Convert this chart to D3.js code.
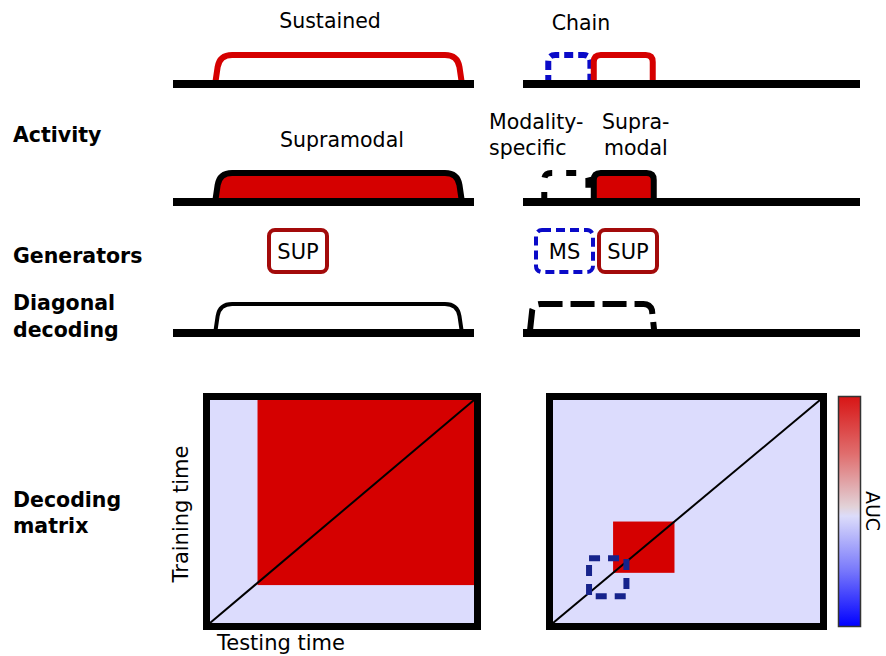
<!DOCTYPE html>
<html>
<head>
<meta charset="utf-8">
<script src="https://cdn.jsdelivr.net/npm/d3@7"></script>
<style>
  html, body { margin: 0; padding: 0; background: #fff; }
  svg text { font-family: "DejaVu Sans", Verdana, sans-serif; fill: #000; }
</style>
</head>
<body>
<svg id="fig" width="886" height="656"></svg>
<script>
// Time is expressed on a 0-100 scale in every panel.
const models = ["Sustained", "Chain"];
const rowLabels = [["Activity"], ["Generators"], ["Diagonal", "decoding"], ["Decoding", "matrix"]];

// Sustained model: one supramodal generator active over a long window
const sustainedWindow = [14, 96];
// Chain model: modality-specific stage followed by a supramodal stage
const chainMS = [7.5, 20];
const chainSUP = [21, 38.5];
const chainDiagonal = [2, 39];

// Decoding matrices: [start, end] on training and testing time
const sustainedRed = { test: [18, 100], train: [17, 100] };
const chainRed = { test: [22.5, 45.5], train: [22.5, 45.5] };
const chainMSBox = { test: [13.5, 27.5], train: [12, 29] };

// Colour bar stops (AUC, bottom to top)
const aucStops = [
  { t: 0, c: "#0000ff" },
  { t: 0.25, c: "#7b7bfb" },
  { t: 0.48, c: "#dcdcfa" },
  { t: 0.52, c: "#e2d2d8" },
  { t: 0.75, c: "#e06e6e" },
  { t: 1, c: "#d81515" }
];

const RED = "#d50000";
const DARKRED = "#a30a0a";
const BLUE = "#0a0ac8";
const NAVY = "#16238c";
const LAV = "#dcdcfd";

const svg = d3.select("#fig");

// Baseline x-scales for the left (sustained) and right (chain) columns
const xL = d3.scaleLinear().domain([0, 100]).range([173, 474]);
const xR = d3.scaleLinear().domain([0, 100]).range([523, 860]);

function plateau(x0, x1, base, top, r) {
  const p = d3.path();
  p.moveTo(x0, base);
  p.lineTo(x0 + 2.5, top + r);
  p.quadraticCurveTo(x0 + 4.5, top, x0 + r + 5, top);
  p.lineTo(x1 - r - 5, top);
  p.quadraticCurveTo(x1 - 4.5, top, x1 - 2.5, top + r);
  p.lineTo(x1, base);
  return p.toString();
}
function box(x0, x1, base, top, r) {
  const p = d3.path();
  p.moveTo(x0, base);
  p.lineTo(x0, top + r);
  p.quadraticCurveTo(x0, top, x0 + r, top);
  p.lineTo(x1 - r, top);
  p.quadraticCurveTo(x1, top, x1, top + r);
  p.lineTo(x1, base);
  return p.toString();
}
function baseline(x, y) {
  svg.append("line").attr("x1", x.range()[0]).attr("x2", x.range()[1])
    .attr("y1", y).attr("y2", y).attr("stroke", "#000").attr("stroke-width", 8);
}

// ---- Row 1: activity traces
svg.append("path").attr("d", plateau(xL(sustainedWindow[0]), xL(sustainedWindow[1]), 84, 55, 12))
  .attr("fill", "none").attr("stroke", RED).attr("stroke-width", 6);
svg.append("path").attr("d", box(xR(chainMS[0]), xR(chainMS[1]), 84, 55, 7))
  .attr("fill", "none").attr("stroke", BLUE).attr("stroke-width", 6).attr("stroke-dasharray", "9,5");
svg.append("path").attr("d", box(xR(chainSUP[0]), xR(chainSUP[1]), 84, 55, 7))
  .attr("fill", "none").attr("stroke", RED).attr("stroke-width", 6);
baseline(xL, 84);
baseline(xR, 84);

// ---- Row 2: supramodal component
svg.append("path").attr("d", plateau(xL(sustainedWindow[0]), xL(sustainedWindow[1]), 202, 173, 12))
  .attr("fill", RED).attr("stroke", "#000").attr("stroke-width", 6);
svg.append("path").attr("d", box(xR(chainMS[0]) - 4, xR(chainMS[1]) - 2, 202, 173, 7))
  .attr("fill", "none").attr("stroke", "#000").attr("stroke-width", 6).attr("stroke-dasharray", "10,14");
svg.append("path").attr("d", box(xR(chainSUP[0]), xR(chainSUP[1]) + 1, 202, 173, 7))
  .attr("fill", RED).attr("stroke", "#000").attr("stroke-width", 6);
baseline(xL, 202);
baseline(xR, 202);

// ---- Row 3: generators
function genBox(x0, x1, label, color, dashed) {
  const g = svg.append("g");
  g.append("rect").attr("x", x0).attr("y", 230).attr("width", x1 - x0).attr("height", 42)
    .attr("rx", 6).attr("fill", "#fff").attr("stroke", color).attr("stroke-width", 4)
    .attr("stroke-dasharray", dashed ? "9,5" : null);
  g.append("text").attr("x", (x0 + x1) / 2).attr("y", 259).attr("text-anchor", "middle")
    .attr("font-size", 21).text(label);
}
genBox(269, 327, "SUP", DARKRED, false);
genBox(536, 593, "MS", BLUE, true);
genBox(599, 657, "SUP", DARKRED, false);

// ---- Row 4: diagonal decoding
svg.append("path").attr("d", plateau(xL(sustainedWindow[0]), xL(sustainedWindow[1]), 333, 304, 12))
  .attr("fill", "none").attr("stroke", "#000").attr("stroke-width", 4);
svg.append("path").attr("d", plateau(xR(chainDiagonal[0]), xR(chainDiagonal[1]), 333, 304, 6))
  .attr("fill", "none").attr("stroke", "#000").attr("stroke-width", 6).attr("stroke-dasharray", "24,8");
baseline(xL, 333);
baseline(xR, 333);

// ---- Row 5: decoding matrices
function matrix(x0, x1, y0, y1) {
  const sx = d3.scaleLinear().domain([0, 100]).range([x0, x1]);
  const sy = d3.scaleLinear().domain([0, 100]).range([y1, y0]);
  const g = svg.append("g");
  g.append("rect").attr("x", x0).attr("y", y0).attr("width", x1 - x0).attr("height", y1 - y0).attr("fill", LAV);
  return { g, sx, sy };
}
function finishMatrix(m) {
  const [x0, x1] = m.sx.range(), [y1, y0] = m.sy.range();
  m.g.append("line").attr("x1", m.sx(0)).attr("y1", m.sy(0)).attr("x2", m.sx(100)).attr("y2", m.sy(100))
    .attr("stroke", "#000").attr("stroke-width", 2);
  m.g.append("rect").attr("x", x0 - 3.5).attr("y", y0 - 3.5).attr("width", x1 - x0 + 7).attr("height", y1 - y0 + 7)
    .attr("fill", "none").attr("stroke", "#000").attr("stroke-width", 7);
}
function area(m, reg, fill) {
  return m.g.append("rect")
    .attr("x", m.sx(reg.test[0])).attr("width", m.sx(reg.test[1]) - m.sx(reg.test[0]))
    .attr("y", m.sy(reg.train[1])).attr("height", m.sy(reg.train[0]) - m.sy(reg.train[1]))
    .attr("fill", fill);
}

const mL = matrix(210, 474, 400, 623);
area(mL, sustainedRed, RED);
finishMatrix(mL);

const mR = matrix(553, 820, 400, 623);
area(mR, chainRed, RED);
finishMatrix(mR);
area(mR, chainMSBox, "none").attr("stroke", NAVY).attr("stroke-width", 6).attr("stroke-dasharray", "11,8");

// Colour bar
const defs = svg.append("defs");
const grad = defs.append("linearGradient").attr("id", "aucGrad")
  .attr("x1", 0).attr("y1", 1).attr("x2", 0).attr("y2", 0);
grad.selectAll("stop").data(aucStops).join("stop")
  .attr("offset", d => d.t).attr("stop-color", d => d.c);
svg.append("rect").attr("x", 838.5).attr("y", 396.5).attr("width", 22).attr("height", 230)
  .attr("fill", "url(#aucGrad)").attr("stroke", "#333").attr("stroke-width", 1.5);
svg.append("text").attr("transform", "translate(866,511) rotate(90)").attr("text-anchor", "middle")
  .attr("font-size", 19).text("AUC");

// ---- Text labels
const titleSize = 20.5;
svg.append("text").attr("x", 330).attr("y", 28).attr("text-anchor", "middle").attr("font-size", titleSize).text(models[0]);
svg.append("text").attr("x", 581).attr("y", 30).attr("text-anchor", "middle").attr("font-size", titleSize).text(models[1]);
svg.append("text").attr("x", 342).attr("y", 147).attr("text-anchor", "middle").attr("font-size", titleSize).text("Supramodal");
svg.append("text").attr("x", 489).attr("y", 129).attr("font-size", titleSize).text("Modality-");
svg.append("text").attr("x", 489).attr("y", 155).attr("font-size", titleSize).text("specific");
svg.append("text").attr("x", 602).attr("y", 129).attr("font-size", titleSize).text("Supra-");
svg.append("text").attr("x", 604).attr("y", 155).attr("font-size", titleSize).text("modal");

const rowY = [142, 263, [310, 337], [507, 533]];
rowLabels.forEach((lines, i) => {
  const ys = Array.isArray(rowY[i]) ? rowY[i] : [rowY[i]];
  lines.forEach((t, j) => {
    svg.append("text").attr("x", 13).attr("y", ys[j]).attr("font-size", 20.5).attr("font-weight", "bold").text(t);
  });
});

svg.append("text").attr("x", 217).attr("y", 650).attr("font-size", 21).text("Testing time");
svg.append("text").attr("transform", "translate(188,514) rotate(-90)").attr("text-anchor", "middle")
  .attr("font-size", 21).text("Training time");
</script>
</body>
</html>
